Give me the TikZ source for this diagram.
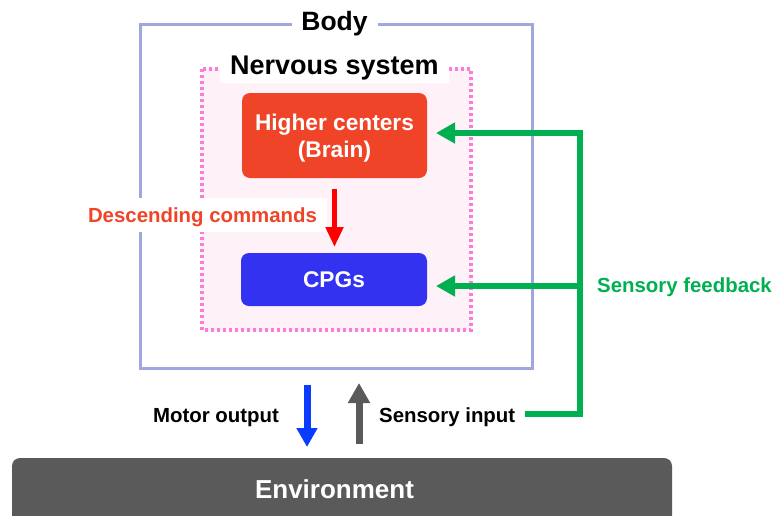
\documentclass[tikz,border=0pt]{standalone}
\usepackage{fontspec}
\setmainfont{Liberation Sans}
\usetikzlibrary{arrows.meta,calc}

\definecolor{bodyline}{HTML}{9FA8DE}
\definecolor{nsline}{HTML}{FF7AD6}
\definecolor{nsfill}{HTML}{FFF1F8}
\definecolor{brainred}{HTML}{F04428}
\definecolor{cpgblue}{HTML}{3232F0}
\definecolor{cmdred}{HTML}{FF0000}
\definecolor{fbgreen}{HTML}{00B050}
\definecolor{motorblue}{HTML}{0A3CFF}
\definecolor{envgray}{HTML}{5A5A5A}

\tikzset{
  fs/.style={font=\bfseries\fontsize{#1}{#1}\selectfont},
  block/.style={draw=none, rounded corners=8pt, inner sep=0pt},
  blocktext/.style={text=white, fs=22.7, inner sep=0pt, anchor=base},
  label/.style={fs=20.4, inner sep=0pt, anchor=base},
  whitebg/.style={fill=white, inner sep=0pt},
}

\begin{document}
\begin{tikzpicture}[x=1pt,y=-1pt]
  \useasboundingbox (0,0) rectangle (772,515);

  % body frame with its title
  \draw[bodyline, line width=3pt] (140,24) rectangle (532,368);
  \node[whitebg, minimum width=86pt, minimum height=28pt] (bodybg) at (334.5,22) {};
  \node[fs=26.5, inner sep=0pt, anchor=base] (body) at (334.5,30) {Body};

  % nervous system region with its title
  \draw[nsline, fill=nsfill, line width=3.3pt, dash pattern=on 3pt off 3pt] (202,69) rectangle (471,330);
  \node[whitebg, minimum width=229pt, minimum height=34pt] (nsbg) at (334.5,66) {};
  \node[fs=27, inner sep=0pt, anchor=base] (ns) at (334.5,74) {Nervous system};

  % processing blocks
  \node[block, fill=brainred, minimum width=185pt, minimum height=85pt] (brain) at (334.5,135.5) {};
  \node[blocktext] (brain1) at (334.5,130) {Higher centers};
  \node[blocktext] (brain2) at (334.5,157) {(Brain)};
  \node[block, fill=cpgblue, minimum width=186pt, minimum height=53pt] (cpg) at (334,279.5) {};
  \node[blocktext] (cpgtext) at (334,287.3) {CPGs};

  % descending commands
  \node[whitebg, minimum width=248pt, minimum height=34pt] (descbg) at (203,215) {};
  \node[label, text=brainred] (desc) at (202.5,222.3) {Descending commands};
  \coordinate (dtop) at (brain.south |- 0,189);
  \coordinate (dbot) at (brain.south |- 0,247);
  \draw[cmdred, line width=5.5pt, -{Triangle[length=20pt,width=17pt]}] (dtop) -- (dbot);

  % environment
  \node[fill=envgray, rounded corners=8pt, minimum width=660pt, minimum height=70pt, inner sep=0pt] (env) at (342,493) {};
  \node[fs=26, text=white, inner sep=0pt, anchor=base] (envtext) at (334.5,498.3) {Environment};

  % motor output / sensory input
  \node[label, anchor=base east] (motor) at (279,422.7) {Motor output};
  \node[label, anchor=base west] (sensin) at (379,422.7) {Sensory input};
  \coordinate (mtop) at (307,385);
  \coordinate (mbot) at (307,447);
  \coordinate (sbot) at (359,444);
  \coordinate (stop) at (359,383);
  \draw[motorblue, line width=7pt, -{Triangle[length=19pt,width=20pt]}] (mtop) -- (mbot);
  \draw[envgray, line width=7pt, -{Triangle[length=20pt,width=21pt]}] (sbot) -- (stop);

  % sensory feedback loop
  \coordinate (fbstart) at (525,414);
  \coordinate (fbcorner) at (580,414);
  \coordinate (fbtop) at (580,133);
  \coordinate (fbmid) at (580,286);
  \coordinate (tipbrain) at (436,133);
  \coordinate (tipcpg) at (436,286);
  \draw[fbgreen, line width=6pt, -{Triangle[length=19pt,width=20pt]}]
    (fbstart) -- (fbcorner) -- (fbtop) -- (tipbrain);
  \draw[fbgreen, line width=6pt, -{Triangle[length=19pt,width=20pt]}] (fbmid) -- (tipcpg);
  \node[label, text=fbgreen, anchor=base west] (fblabel) at (597,292.7) {Sensory feedback};
\end{tikzpicture}
\end{document}
